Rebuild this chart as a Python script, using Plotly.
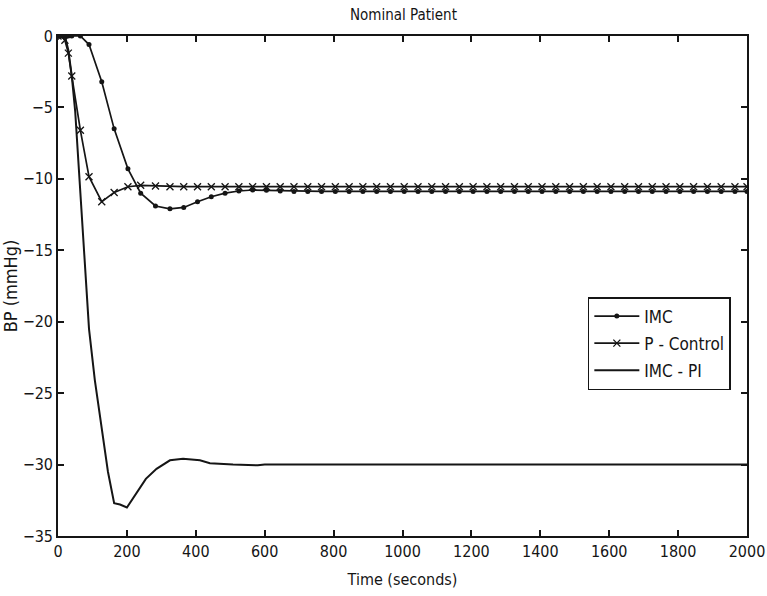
import plotly.graph_objects as go

# Shared simulation time vector (seconds) for IMC and P-Control
t_sim = [0, 10, 20, 30, 40, 65, 90, 127, 163, 203, 240, 283, 325, 365, 405, 445, 485,
         525, 565, 605, 645, 685, 725, 765, 805, 845, 885, 925, 965, 1005, 1045, 1085,
         1125, 1165, 1205, 1245, 1285, 1325, 1365, 1405, 1445, 1485, 1525, 1565, 1605,
         1645, 1685, 1725, 1765, 1805, 1845, 1885, 1925, 1965, 2000]

imc = [0, 0, 0, 0, 0, 0, -0.6, -3.2, -6.5, -9.3, -11.0, -11.9, -12.1, -12.0, -11.6, -11.25, -11.0,
       -10.85, -10.78, -10.8, -10.85] + [-10.88] * 34

p_control = [0, 0, -0.3, -1.2, -2.8, -6.6, -9.85, -11.6, -10.95, -10.55, -10.45, -10.5] + [-10.55] * 43

# IMC - PI (drawn as plain line)
t_pi = [0, 10, 20, 30, 40, 50, 60, 70, 80, 90, 107, 127, 145, 163, 180, 200, 228, 255, 286,
        325, 363, 412, 441, 508, 580, 600, 800, 1000, 1200, 1400, 1600, 1800, 2000]
imc_pi = [0, 0, 0, -1.0, -2.8, -5.3, -9.0, -13.0, -17.0, -20.5, -24.1, -27.6, -30.5, -32.7,
          -32.8, -33.0, -32.0, -31.0, -30.3, -29.7, -29.6, -29.7, -29.9, -30.0, -30.05, -30.0,
          -30.0, -30.0, -30.0, -30.0, -30.0, -30.0, -30.0]

x_ticks = list(range(0, 2001, 200))
y_ticks = list(range(-35, 1, 5))

FONT = "DejaVu Sans Condensed, Liberation Sans Narrow, sans-serif"
INK = "#151515"

fig = go.Figure()
fig.add_trace(go.Scatter(x=t_sim, y=imc, name="IMC", mode="lines+markers", legendgroup="a",
                         line=dict(color=INK, width=1.7),
                         marker=dict(symbol="circle", size=5, color=INK)))
fig.add_trace(go.Scatter(x=t_sim, y=p_control, name="P - Control", mode="lines+markers", legendgroup="b",
                         line=dict(color=INK, width=1.7),
                         marker=dict(symbol="x-thin-open", size=7, color=INK,
                                     line=dict(color=INK, width=1.3))))
fig.add_trace(go.Scatter(x=t_pi, y=imc_pi, name="IMC - PI", mode="lines", legendgroup="c",
                         line=dict(color=INK, width=2)))

axis_common = dict(showline=True, linecolor=INK, linewidth=1.6, mirror="ticks",
                   ticks="inside", ticklen=6, tickwidth=1.6, tickcolor=INK,
                   showgrid=False, zeroline=False, automargin=False,
                   tickfont=dict(family=FONT, size=16, color=INK))

fig.update_layout(
    width=767, height=596,
    margin=dict(l=58, r=20, t=36, b=60),
    paper_bgcolor="white", plot_bgcolor="white",
    title=dict(text="Nominal Patient", x=0.526, xanchor="center", y=0.975, yanchor="middle",
               font=dict(family=FONT, size=15, color=INK)),
    xaxis=dict(range=[0, 2000], tickvals=x_ticks,
               title=dict(text="Time (seconds)", font=dict(family=FONT, size=16, color=INK), standoff=14),
               **axis_common),
    yaxis=dict(range=[-35, 0], tickvals=y_ticks,
               title=dict(text="BP (mmHg)", font=dict(family=FONT, size=18, color=INK), standoff=0),
               **axis_common),
    legend=dict(x=0.769, y=0.478, xanchor="left", yanchor="top",
                bordercolor=INK, borderwidth=1.5, bgcolor="white",
                font=dict(family=FONT, size=17, color=INK),
                tracegroupgap=2, itemwidth=45),
    showlegend=True,
)

fig.write_html("out.html")
